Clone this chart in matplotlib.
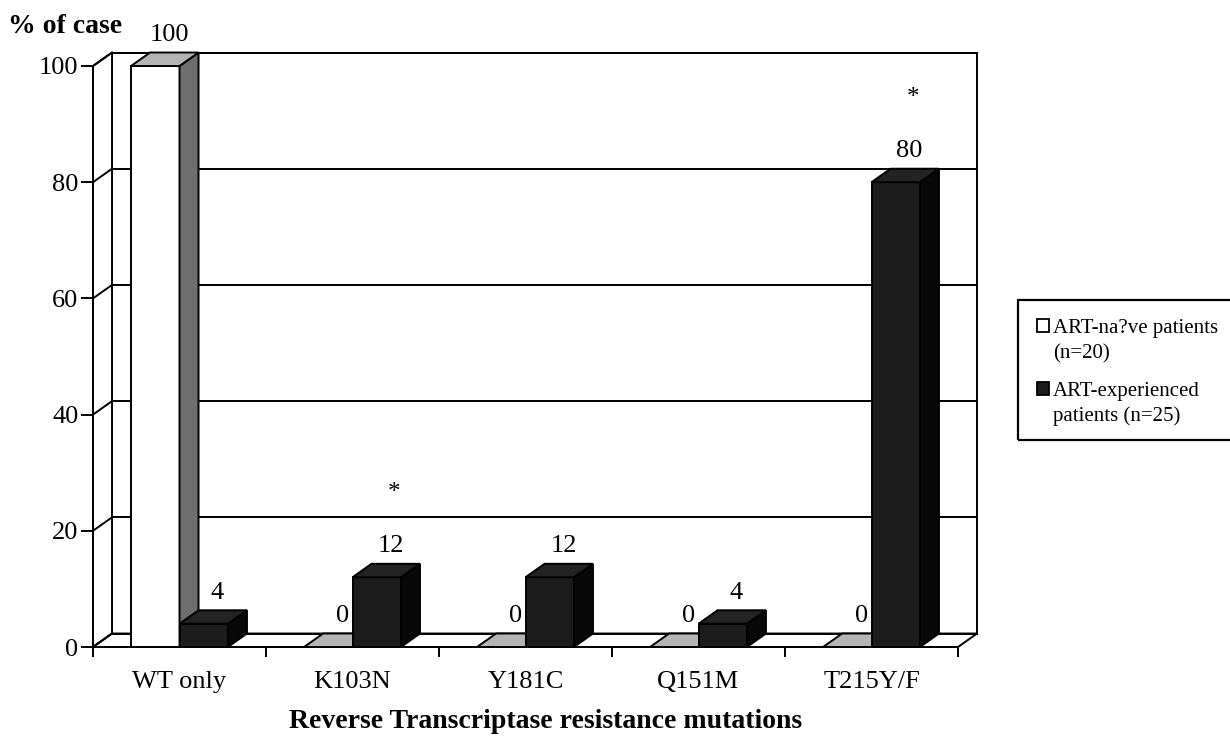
import matplotlib
matplotlib.use('Agg')
import matplotlib.pyplot as plt
from matplotlib.patches import Polygon, Rectangle

plt.rcParams['font.family'] = ['Liberation Serif', 'DejaVu Serif']

# Data
categories = ['WT only', 'K103N', 'Y181C', 'Q151M', 'T215Y/F']
naive = [100, 0, 0, 0, 0]
experienced = [4, 12, 12, 4, 80]
significant = [False, True, False, False, True]
series_names = ['ART-na?ve patients\n(n=20)', 'ART-experienced\npatients (n=25)']
y_ticks = [0, 20, 40, 60, 80, 100]

# Layout / style
W, H = 1230, 736
DX = 0.11     # depth shift along categories
DY = 2.32     # depth shift along values
BAR_W = 0.28
LW = 1.4
naive_colors = ('white', '#6e6e6e', '#b4b4b4')          # front, side, top
exp_colors = ('#1c1c1c', '#080808', '#232323')


def bar3d(ax, x0, h, colors, z):
    front, side, top = colors
    x1 = x0 + BAR_W
    kw = dict(ec='black', lw=LW, clip_on=False, zorder=z, joinstyle='miter')
    if h > 0:
        ax.add_patch(Rectangle((x0, 0), BAR_W, h, fc=front, **kw))
        ax.add_patch(Polygon([(x1, 0), (x1 + DX, DY), (x1 + DX, h + DY), (x1, h)], fc=side, **kw))
    ax.add_patch(Polygon([(x0, h), (x1, h), (x1 + DX, h + DY), (x0 + DX, h + DY)], fc=top, **kw))


fig = plt.figure(figsize=(W / 100, H / 100), dpi=100)
ax = fig.add_axes([93 / W, 1 - 647 / H, 865 / W, 581 / H])
ax.set_facecolor('none')
ax.set_xlim(0, len(categories))
ax.set_ylim(0, 100)

# walls and floor
wall = dict(fc='white', ec='black', lw=LW, clip_on=False, zorder=1)
n = len(categories)
ax.add_patch(Rectangle((DX, DY), n, 100, **wall))
ax.add_patch(Polygon([(0, 0), (DX, DY), (DX, 100 + DY), (0, 100)], **wall))
ax.add_patch(Polygon([(0, 0), (n, 0), (n + DX, DY), (DX, DY)], **wall))
for t in y_ticks:
    ax.plot([DX, n + DX], [t + DY, t + DY], color='black', lw=LW, clip_on=False, zorder=1.5)
    ax.plot([0, DX], [t, t + DY], color='black', lw=LW, clip_on=False, zorder=1.5)

# bars
z = 3
for i in range(n):
    c = i + 0.5
    bar3d(ax, c - BAR_W, naive[i], naive_colors, z)
    bar3d(ax, c, experienced[i], exp_colors, z + 1)
    z += 2
    for xc, v in [(c - BAR_W / 2, naive[i]), (c + BAR_W / 2, experienced[i])]:
        ax.text(xc + 0.08, v + DY + 2.0, f'{v}', ha='center', va='baseline',
                fontsize=19, zorder=20, clip_on=False)
    if significant[i]:
        ax.text(c + BAR_W / 2 + 0.1, experienced[i] + DY + 11.2, '*', ha='center',
                va='baseline', fontsize=18, zorder=20, clip_on=False)

# axes
for s in ['top', 'right']:
    ax.spines[s].set_visible(False)
for s in ['left', 'bottom']:
    ax.spines[s].set_linewidth(LW)
    ax.spines[s].set_zorder(2)
ax.set_yticks(y_ticks)
ax.tick_params(axis='y', direction='out', length=8.5, width=LW, pad=2, labelsize=19)
ax.set_xticks(range(n + 1))
ax.set_xticklabels([])
ax.set_xticks([i + 0.5 for i in range(n)], minor=True)
ax.set_xticklabels(categories, minor=True)
ax.tick_params(axis='x', which='major', direction='out', length=7.5, width=LW)
ax.tick_params(axis='x', which='minor', length=0, pad=17, labelsize=19)

fig.text(8 / W, 1 - 33 / H, '% of case', fontsize=20, fontweight='bold', va='baseline')
fig.text(546 / W, 1 - 728 / H, 'Reverse Transcriptase resistance mutations',
         fontsize=20, fontweight='bold', ha='center', va='baseline')

# legend
fig.patches.append(Rectangle((1018 / W, 1 - 440 / H), 230 / W, 140 / H, transform=fig.transFigure,
                             fill=False, ec='black', lw=1.6))
legend_tops = [333, 396]
for name, col, base in zip(series_names, ['white', '#1c1c1c'], legend_tops):
    fig.patches.append(Rectangle((1037 / W, 1 - (base - 1) / H), 12 / W, 13 / H,
                                 transform=fig.transFigure, fc=col, ec='black', lw=1.3))
    for k, line in enumerate(name.split('\n')):
        fig.text(1053 / W, 1 - (base + 25.5 * k) / H, line, fontsize=15, va='baseline')

fig.savefig('out.png', dpi=100)
